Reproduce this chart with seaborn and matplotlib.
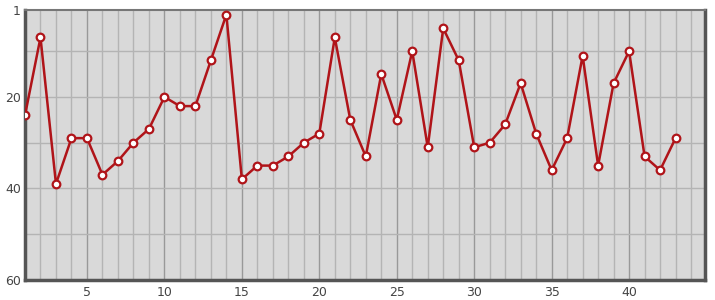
import matplotlib
matplotlib.use("Agg")
import matplotlib.pyplot as plt
import seaborn as sns
import pandas as pd
from matplotlib.ticker import MultipleLocator, FixedLocator

positions = list(range(1, 44))
ranks = [24, 7, 39, 29, 29, 37, 34, 30, 27, 20, 22, 22, 12, 2, 38, 35, 35, 33, 30, 28,
         7, 25, 33, 15, 25, 10, 31, 5, 12, 31, 30, 26, 17, 28, 36, 29, 11, 35, 17, 10,
         33, 36, 29]
x_ticks = [5, 10, 15, 20, 25, 30, 35, 40]
y_ticks = [1, 20, 40, 60]

df = pd.DataFrame({"x": positions, "y": ranks})

sns.set_theme(style="white")
plt.rcParams['font.family'] = ['DejaVu Sans']

fig = plt.figure(figsize=(7.15, 3.0), dpi=100)
ax = fig.add_axes([25/715, 20/300, 680/715, 270/300])
ax.set_facecolor("#d9d9d9")

# grid
for v in range(2, 45):
    ax.axvline(v, color="#999999" if v % 5 == 0 else "#b4b4b4", lw=1.0, zorder=1)
for v in [10, 20, 30, 40, 50]:
    ax.axhline(v, color="#b4b4b4", lw=1.0, zorder=1)

sns.lineplot(data=df, x="x", y="y", ax=ax, color="#b01419", lw=1.8, zorder=3,
             marker="o", markersize=5.5, markerfacecolor="white",
             markeredgecolor="#b01419", markeredgewidth=1.6)

ax.set_xlim(1, 44.9)
ax.set_ylim(60, 1)
ax.xaxis.set_major_locator(FixedLocator(x_ticks))
ax.yaxis.set_major_locator(FixedLocator(y_ticks))
ax.set_xlabel("")
ax.set_ylabel("")
ax.tick_params(axis="both", length=0, labelsize=9, colors="#444444", pad=4)
ax.tick_params(axis="y", pad=3)

for side, sp in ax.spines.items():
    sp.set_visible(True)
    sp.set_color("#777777")
    sp.set_linewidth(1.5)
ax.spines["left"].set_linewidth(2.5)
ax.spines["left"].set_color("#555555")
ax.spines["bottom"].set_linewidth(2.5)
ax.spines["bottom"].set_color("#555555")
ax.spines["right"].set_linewidth(2.5)
ax.spines["right"].set_color("#555555")

fig.savefig("out.png", dpi=100)
